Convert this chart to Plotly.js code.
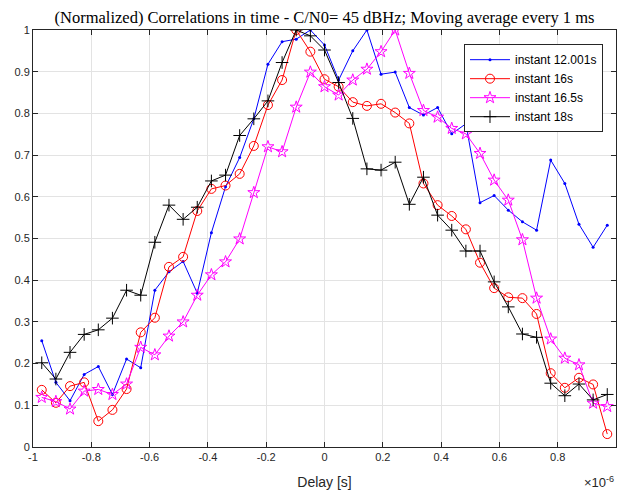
<!DOCTYPE html>
<html>
<head>
<meta charset="utf-8">
<script src="https://cdn.plot.ly/plotly-3.0.1.min.js"></script>
<style>html,body{margin:0;padding:0;background:#fff;}#chart{width:617px;height:493px;}</style>
</head>
<body>
<div id="chart"></div>
<script>
// Delay in units of 1e-6 s
const delay = [-0.97, -0.9215, -0.873, -0.8245, -0.776, -0.7275, -0.679, -0.6305, -0.582, -0.5335,
  -0.485, -0.4365, -0.388, -0.3395, -0.291, -0.2425, -0.194, -0.1455, -0.097, -0.0485,
  0, 0.0485, 0.097, 0.1455, 0.194, 0.2425, 0.291, 0.3395, 0.388, 0.4365,
  0.485, 0.5335, 0.582, 0.6305, 0.679, 0.7275, 0.776, 0.8245, 0.873, 0.9215, 0.97];

const inst12001 = [0.255, 0.155, 0.111, 0.174, 0.193, 0.126, 0.211, 0.190, 0.376, 0.420,
  0.445, 0.369, 0.514, 0.624, 0.694, 0.787, 0.918, 0.972, 0.978, 1.0,
  0.964, 0.880, 0.950, 1.0, 0.894, 0.899, 0.814, 0.796, 0.814, 0.751,
  0.775, 0.586, 0.603, 0.568, 0.540, 0.520, 0.688, 0.632, 0.534, 0.479, 0.532];

const inst16 = [0.137, 0.106, 0.146, 0.155, 0.062, 0.089, 0.139, 0.275, 0.310, 0.432,
  0.456, 0.566, 0.619, 0.627, 0.655, 0.722, 0.820, 0.880, 1.0, 0.948,
  0.882, 0.864, 0.827, 0.818, 0.823, 0.802, 0.776, 0.632, 0.580, 0.554,
  0.522, 0.442, 0.381, 0.359, 0.357, 0.319, 0.177, 0.142, 0.166, 0.150, 0.031];

const inst165 = [0.119, 0.109, 0.091, 0.134, 0.138, 0.126, 0.151, 0.239, 0.221, 0.266,
  0.300, 0.364, 0.413, 0.444, 0.499, 0.610, 0.720, 0.708, 0.815, 0.899,
  0.864, 0.844, 0.880, 0.906, 0.948, 1.0, 0.896, 0.807, 0.791, 0.764,
  0.751, 0.704, 0.640, 0.592, 0.497, 0.357, 0.259, 0.213, 0.197, 0.105, 0.097];

const inst18 = [0.202, 0.163, 0.227, 0.270, 0.281, 0.309, 0.376, 0.364, 0.491, 0.580,
  0.546, 0.575, 0.638, 0.652, 0.747, 0.787, 0.830, 0.922, 1.0, 0.986,
  0.952, 0.874, 0.788, 0.667, 0.664, 0.683, 0.582, 0.647, 0.556, 0.520,
  0.470, 0.470, 0.396, 0.336, 0.271, 0.263, 0.153, 0.123, 0.151, 0.113, 0.126];

const seriesNames = ['instant 12.001s', 'instant 16s', 'instant 16.5s', 'instant 18s'];
const xTickVals = [-1, -0.8, -0.6, -0.4, -0.2, 0, 0.2, 0.4, 0.6, 0.8, 1];
const xTickText = ['-1', '-0.8', '-0.6', '-0.4', '-0.2', '0', '0.2', '0.4', '0.6', '0.8', '1'];
const yTickVals = [0, 0.1, 0.2, 0.3, 0.4, 0.5, 0.6, 0.7, 0.8, 0.9, 1];
const yTickText = ['0', '0.1', '0.2', '0.3', '0.4', '0.5', '0.6', '0.7', '0.8', '0.9', '1'];

const traces = [
  {x: delay, y: inst12001, name: seriesNames[0], type: 'scatter', mode: 'lines+markers',
   line: {color: '#0000ff', width: 1}, marker: {symbol: 'circle', size: 3, color: '#0000ff'}},
  {x: delay, y: inst16, name: seriesNames[1], type: 'scatter', mode: 'lines+markers',
   line: {color: '#ff0000', width: 1}, marker: {symbol: 'circle-open', size: 9, color: '#ff0000', line: {width: 1}}},
  {x: delay, y: inst165, name: seriesNames[2], type: 'scatter', mode: 'lines+markers',
   line: {color: '#ff00ff', width: 1}, marker: {symbol: 'star-open', size: 9, color: '#ff00ff', line: {width: 1}}},
  {x: delay, y: inst18, name: seriesNames[3], type: 'scatter', mode: 'lines+markers',
   line: {color: '#000000', width: 1}, marker: {symbol: 'cross-thin-open', size: 9, color: '#000000', line: {width: 1, color: '#000000'}}}
];

const axisCommon = {
  showline: true, linecolor: '#262626', linewidth: 1, mirror: 'ticks',
  ticks: 'inside', ticklen: 5, tickcolor: '#262626', tickwidth: 1,
  showgrid: true, gridcolor: '#e3e3e3', gridwidth: 1, zeroline: false,
  tickfont: {family: 'Liberation Sans, Arial, sans-serif', size: 11, color: '#262626'}
};

const layout = {
  width: 617, height: 493,
  margin: {l: 33, r: 1, t: 30, b: 46, pad: 0},
  paper_bgcolor: '#ffffff', plot_bgcolor: '#ffffff',
  showlegend: true,
  title: {
    text: '(Normalized) Correlations in time - C/N0= 45 dBHz; Moving average every 1 ms',
    font: {family: 'Liberation Serif, Times New Roman, serif', size: 16.5, color: '#000000'},
    x: 0.5, xref: 'paper', xanchor: 'center',
    y: 1 - 17 / 493, yref: 'container', yanchor: 'middle'
  },
  xaxis: Object.assign({}, axisCommon, {
    range: [-1, 1], tickmode: 'array', tickvals: xTickVals, ticktext: xTickText,
    title: {text: 'Delay [s]', standoff: 14, font: {family: 'Liberation Sans, Arial, sans-serif', size: 14, color: '#262626'}}
  }),
  yaxis: Object.assign({}, axisCommon, {
    range: [0, 1], tickmode: 'array', tickvals: yTickVals, ticktext: yTickText
  }),
  legend: {
    x: 0.9777, y: 0.966, xanchor: 'right', yanchor: 'top',
    bgcolor: '#ffffff', bordercolor: '#262626', borderwidth: 1,
    font: {family: 'Liberation Sans, Arial, sans-serif', size: 12, color: '#000000'},
    itemwidth: 40, tracegroupgap: 0
  },
  annotations: [{
    text: '×10<sup>-6</sup>', xref: 'paper', yref: 'paper', x: 1.0, y: -0.085,
    xanchor: 'right', yanchor: 'middle', showarrow: false,
    font: {family: 'Liberation Sans, Arial, sans-serif', size: 13, color: '#262626'}
  }]
};

Plotly.newPlot('chart', traces, layout, {displayModeBar: false, staticPlot: true});
</script>
</body>
</html>
